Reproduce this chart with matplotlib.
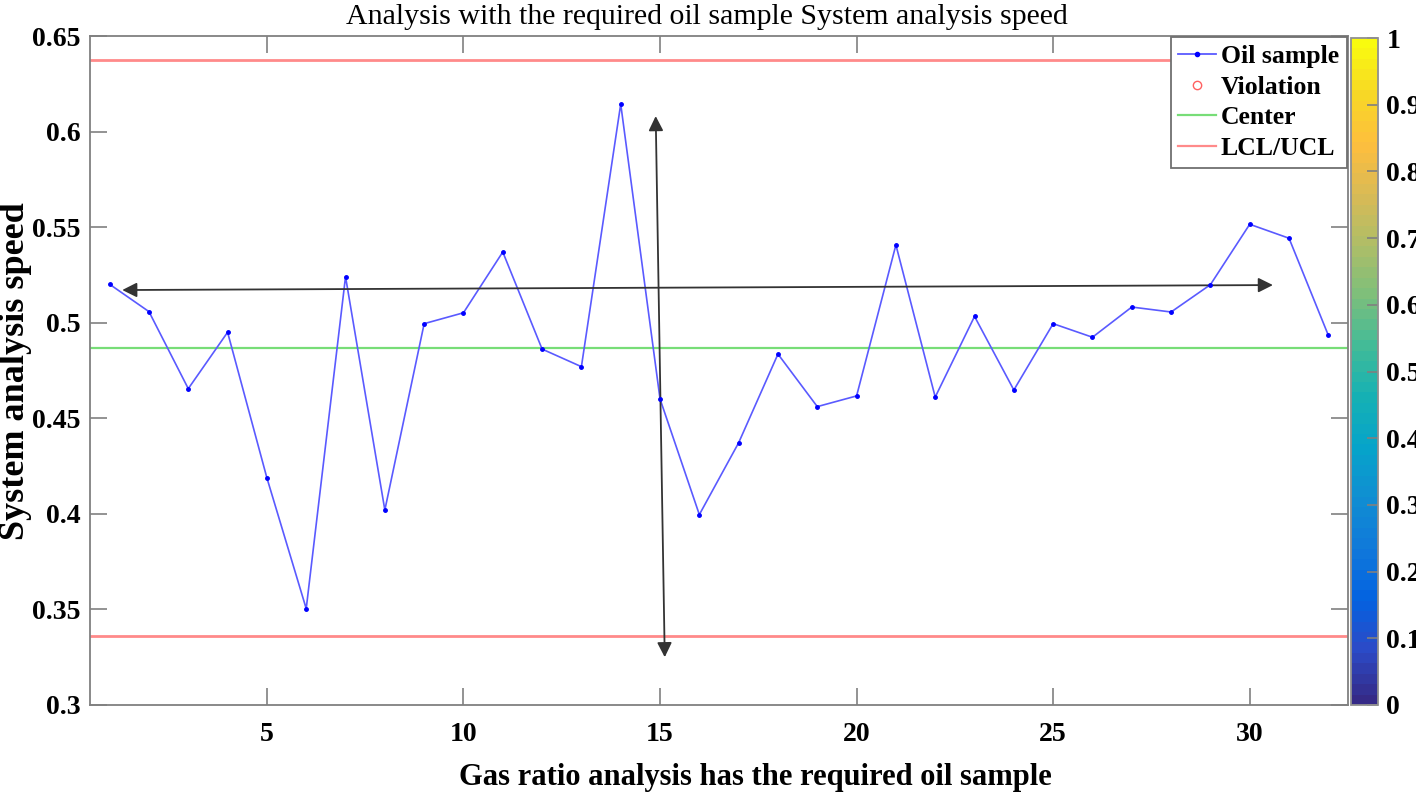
import numpy as np
import matplotlib
matplotlib.use("Agg")
import matplotlib.pyplot as plt
from matplotlib.colors import LinearSegmentedColormap, Normalize
from matplotlib.cm import ScalarMappable
from matplotlib.lines import Line2D

# ---- data ----
sample_idx = list(range(1, 33))
speed = [0.5201, 0.5058, 0.4655, 0.4950, 0.4188, 0.3504, 0.5241, 0.4020,
         0.4995, 0.5052, 0.5370, 0.4862, 0.4770, 0.6144, 0.4601, 0.3996,
         0.4372, 0.4836, 0.4561, 0.4617, 0.5407, 0.4611, 0.5033, 0.4648,
         0.4995, 0.4924, 0.5082, 0.5056, 0.5199, 0.5515, 0.5442, 0.4934]
center_val = 0.4869
ucl_val = 0.6374
lcl_val = 0.3363
x_ticks = [5, 10, 15, 20, 25, 30]
y_ticks = [0.3, 0.35, 0.4, 0.45, 0.5, 0.55, 0.6, 0.65]
y_ticklabels = ['0.3', '0.35', '0.4', '0.45', '0.5', '0.55', '0.6', '0.65']
cb_ticks = [0, 0.1, 0.2, 0.3, 0.4, 0.5, 0.6, 0.7, 0.8, 0.9, 1.0]
cb_ticklabels = ['0', '0.1', '0.2', '0.3', '0.4', '0.5', '0.6', '0.7', '0.8', '0.9', '1']
legend_labels = ['Oil sample', 'Violation', 'Center', 'LCL/UCL']

# parula-like colormap anchors
parula_anchors = [
    (0.2081, 0.1663, 0.5292), (0.1707, 0.2919, 0.7792), (0.0117, 0.3875, 0.8820),
    (0.0629, 0.4737, 0.8554), (0.0641, 0.5570, 0.8240), (0.0231, 0.6418, 0.7913),
    (0.0843, 0.6928, 0.7062), (0.2586, 0.7317, 0.5954), (0.4871, 0.7491, 0.4840),
    (0.6834, 0.7435, 0.4044), (0.8507, 0.7299, 0.3360), (0.9938, 0.7455, 0.2403),
    (0.9697, 0.8481, 0.1475), (0.9763, 0.9831, 0.0538)]
parula = LinearSegmentedColormap.from_list('parula', parula_anchors, N=64)

plt.rcParams['font.family'] = ['Liberation Serif', 'DejaVu Serif']

W, H = 1416, 798
fig = plt.figure(figsize=(W / 100, H / 100), dpi=100)
ax = fig.add_axes([90 / W, 1 - 705 / H, (1348 - 90) / W, (705 - 36) / H])

spine_col = '#808080'
line_blue = '#5a5aff'

ax.plot(sample_idx, speed, '-', color=line_blue, lw=1.2, zorder=3)
ax.plot(sample_idx, speed, '.', color='#0000ff', ms=5, zorder=4)
ax.axhline(center_val, color='#77dd77', lw=1.6, zorder=2)
ax.axhline(ucl_val, color='#ff8a8a', lw=2.0, zorder=2)
ax.axhline(lcl_val, color='#ff8a8a', lw=2.0, zorder=2)

ax.set_xlim(0.5, 32.5)
ax.set_ylim(0.3, 0.65)
ax.set_xticks(x_ticks)
ax.set_xticklabels([str(v) for v in x_ticks])
ax.set_yticks(y_ticks)
ax.set_yticklabels(y_ticklabels)
ax.tick_params(direction='in', length=12, width=1.2, color=spine_col,
               top=True, right=True, labelsize=20)
ax.tick_params(axis='x', pad=12)
ax.tick_params(axis='y', pad=7)
for lab in ax.get_xticklabels() + ax.get_yticklabels():
    lab.set_fontweight('bold')
for sp in ax.spines.values():
    sp.set_color(spine_col)
    sp.set_linewidth(1.3)

fig.text(707 / W, 1 - 17 / H,
         'Analysis with the required oil sample System analysis speed',
         fontsize=21.5, ha='center', va='center')
ax.set_xlabel('Gas ratio analysis has the required oil sample', fontsize=22,
              fontweight='bold', va='center')
ax.xaxis.set_label_coords((755 - 90) / 1258, -(777 - 705) / 669)
ax.set_ylabel('System analysis speed', fontsize=26, fontweight='bold', va='center')
ax.yaxis.set_label_coords(-(90 - 16) / 1258, (705 - 371) / 669)

# annotation arrows
arrow_kw = dict(arrowstyle='<|-|>', color='#333333', lw=1.3,
                mutation_scale=22, shrinkA=0, shrinkB=0)
ax.annotate('', xy=(30.59, 0.5197), xytext=(1.32, 0.5171), arrowprops=arrow_kw)
ax.annotate('', xy=(14.89, 0.6081), xytext=(15.12, 0.3250), arrowprops=arrow_kw)

# legend
handles = [
    Line2D([], [], color=line_blue, lw=1.3, marker='.', ms=6, mfc='#0000ff', mec='#0000ff'),
    Line2D([], [], color='#ff6060', lw=0, marker='o', ms=6, mfc='none', mec='#ff6060'),
    Line2D([], [], color='#77dd77', lw=1.6),
    Line2D([], [], color='#ff8a8a', lw=1.6),
]
leg = ax.legend(handles, legend_labels, loc='upper right', fancybox=False,
                prop={'weight': 'bold', 'size': 18.5}, handlelength=1.45,
                handletextpad=0.2, labelspacing=0.3, borderpad=0.3,
                borderaxespad=0.05, framealpha=1)
leg.get_frame().set_edgecolor('#707070')
leg.get_frame().set_linewidth(1.3)

# colorbar
cax = fig.add_axes([1351 / W, 1 - 705 / H, 27 / W, (705 - 38) / H])
cb = fig.colorbar(ScalarMappable(norm=Normalize(0, 1), cmap=parula), cax=cax)
cb.set_ticks(cb_ticks)
cb.set_ticklabels(cb_ticklabels)
cax.tick_params(direction='in', length=8, width=1.2, color=spine_col,
                labelsize=20, pad=6)
for lab in cax.get_yticklabels():
    lab.set_fontweight('bold')
cb.outline.set_edgecolor('#909090')
cb.outline.set_linewidth(1.3)

fig.savefig('out.png', dpi=100)
